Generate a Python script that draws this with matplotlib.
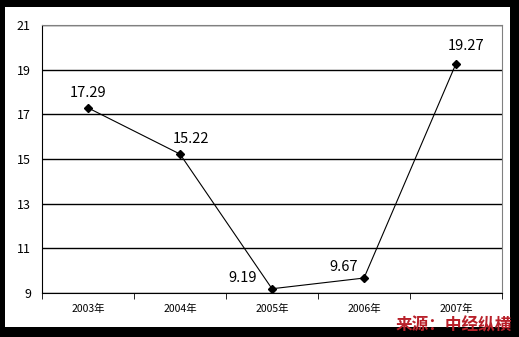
import matplotlib.pyplot as plt
from matplotlib.patches import Rectangle
import numpy as np

plt.rcParams['font.family'] = ['Noto Sans CJK SC', 'DejaVu Sans']

years = ['2003年', '2004年', '2005年', '2006年', '2007年']
values = [17.29, 15.22, 9.19, 9.67, 19.27]
labels = ['17.29', '15.22', '9.19', '9.67', '19.27']
# label offsets in points (dx, dy)
offsets = [(0, 6), (8, 6), (-21, 3), (-15, 3), (7, 7.5)]

W, H = 519, 337
fig = plt.figure(figsize=(W / 100, H / 100), dpi=100)
fig.patch.set_facecolor('black')
fig.patches.append(Rectangle((5 / W, 1 - 327 / H), 505 / W, 320 / H,
                             transform=fig.transFigure, facecolor='white',
                             edgecolor='none', zorder=-1))

ax = fig.add_axes([42 / W, 1 - 293 / H, 460 / W, 268 / H])
x = np.arange(len(years))
ax.plot(x, values, color='black', lw=0.8, marker='D', ms=4, mfc='black', zorder=3)
for xi, v, lab, (dx, dy) in zip(x, values, labels, offsets):
    ax.annotate(lab, (xi, v), xytext=(dx, dy), textcoords='offset points',
                ha='center', va='bottom', fontsize=10.5, color='black')

ax.set_xlim(-0.5, len(years) - 0.5)
ax.set_ylim(9, 21)
ax.set_yticks(np.arange(9, 22, 2))
ax.set_yticklabels([str(t) for t in range(9, 22, 2)], fontsize=9)
ax.yaxis.grid(True, color='black', lw=1)
ax.tick_params(axis='y', length=0, pad=8)

ax.set_xticks(x)
ax.set_xticklabels(years, fontsize=7.5)
ax.tick_params(axis='x', length=0, pad=8)
ax.set_xticks(np.arange(-0.5, len(years)), minor=True)
ax.tick_params(axis='x', which='minor', length=4, direction='out', color='black')

ax.spines['left'].set_color('black')
ax.spines['bottom'].set_color('black')
ax.spines['top'].set_color('#808080')
ax.spines['right'].set_color('#808080')
ax.set_axisbelow(True)

fig.text(454 / W, 1 - 325 / H, '来源：中经纵横', color='#b8202a', fontsize=12,
         fontweight='bold', style='italic', ha='center', va='center')

fig.savefig('out.png', dpi=100, facecolor=fig.get_facecolor())
